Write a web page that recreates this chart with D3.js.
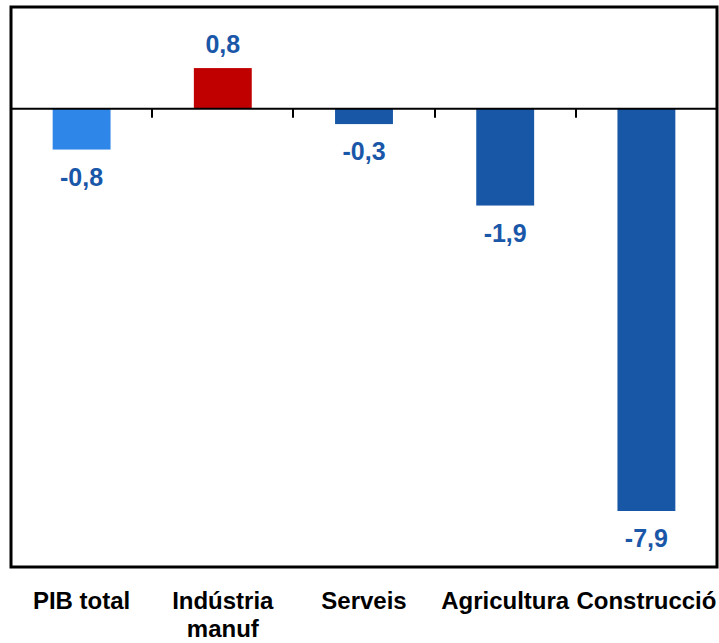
<!DOCTYPE html>
<html><head><meta charset="utf-8">
<script src="https://cdn.jsdelivr.net/npm/d3@7"></script>
<style>body{margin:0;background:#fff}</style>
</head><body>
<svg id="c" width="719" height="643"></svg>
<script>
const categories = ["PIB total", "Indústria manuf", "Serveis", "Agricultura", "Construcció"];
const categoryLines = [["PIB total"], ["Indústria", "manuf"], ["Serveis"], ["Agricultura"], ["Construcció"]];
const values = [-0.8, 0.8, -0.3, -1.9, -7.9];
const colors = ["#2E86E8", "#C00000", "#1757A6", "#1757A6", "#1757A6"];
const yDomain = [-9, 2];

const svg = d3.select("#c");
const L = 11, R = 717, T = 7, B = 567;
const x = d3.scaleBand().domain(categories).range([L, R]).paddingInner(0.59).paddingOuter(0.295);
const y = d3.scaleLinear().domain(yDomain).range([B, T]);
const fmt = v => d3.format(".1f")(v).replace(".", ",").replace("−", "-");

// bars
svg.selectAll("rect.bar").data(values).join("rect")
  .attr("x", (d, i) => x(categories[i]))
  .attr("width", x.bandwidth())
  .attr("y", d => y(Math.max(0, d)))
  .attr("height", d => Math.abs(y(d) - y(0)))
  .attr("fill", (d, i) => colors[i]);

// zero axis with ticks between categories
const y0 = y(0);
svg.append("line").attr("x1", L).attr("x2", R).attr("y1", y0).attr("y2", y0)
  .attr("stroke", "#000").attr("stroke-width", 2);
const step = x.step();
for (let i = 1; i < categories.length; i++) {
  const tx = Math.round(L + step * i * (R - L) / (step * categories.length));
  svg.append("line").attr("x1", tx).attr("x2", tx).attr("y1", y0).attr("y2", y0 + 9)
    .attr("stroke", "#000").attr("stroke-width", 2);
}

// frame
svg.append("rect").attr("x", L).attr("y", T).attr("width", R - L).attr("height", B - T)
  .attr("fill", "none").attr("stroke", "#000").attr("stroke-width", 3);

// value labels
svg.selectAll("text.val").data(values).join("text")
  .attr("x", (d, i) => x(categories[i]) + x.bandwidth() / 2)
  .attr("y", d => d >= 0 ? y(d) - 15 : y(d) + 36)
  .attr("text-anchor", "middle")
  .attr("font-family", "Liberation Sans, Arial, sans-serif")
  .attr("font-weight", "bold").attr("font-size", 25)
  .attr("fill", "#1A57A8")
  .text(d => fmt(d));

// category labels
categories.forEach((c, i) => {
  let cx = x(c) + x.bandwidth() / 2;
  const t = svg.append("text")
    .attr("text-anchor", "middle")
    .attr("font-family", "Liberation Sans, Arial, sans-serif")
    .attr("font-weight", "bold").attr("font-size", 24)
    .attr("fill", "#000");
  categoryLines[i].forEach((ln, j) => {
    t.append("tspan").attr("x", cx).attr("y", 609 + j * 28).text(ln);
  });
  const bb = t.node().getBBox();
  if (bb.x + bb.width > 717) {
    const shift = bb.x + bb.width - 717;
    t.selectAll("tspan").attr("x", cx - shift);
  }
});
</script>
</body></html>
